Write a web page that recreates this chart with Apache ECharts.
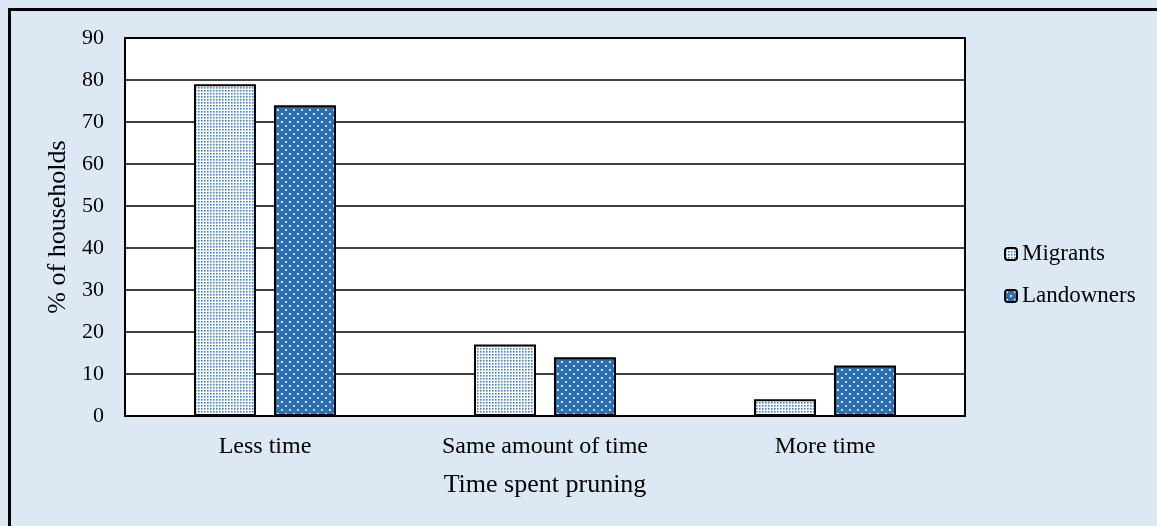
<!DOCTYPE html>
<html>
<head>
<meta charset="utf-8">
<script src="https://cdn.jsdelivr.net/npm/echarts@6/dist/echarts.min.js"></script>
<style>
  html, body { margin: 0; padding: 0; background: #dde8f5; }
  #chart { width: 1157px; height: 526px; }
</style>
</head>
<body>
<div id="chart"></div>
<script>
// categories and values
const categories = ['Less time', 'Same amount of time', 'More time'];
const migrants = [79, 17, 4];
const landowners = [74, 14, 12];
const yTicks = { min: 0, max: 90, interval: 10 };

// small dotted fills, drawn on canvases and repeated
function dotPattern(w, h, bg, dot, dots, dotSize) {
  const c = document.createElement('canvas');
  c.width = w; c.height = h;
  const ctx = c.getContext('2d');
  ctx.fillStyle = bg;
  ctx.fillRect(0, 0, w, h);
  ctx.fillStyle = dot;
  dots.forEach(([x, y]) => ctx.fillRect(x, y, dotSize, dotSize));
  return c;
}
const migrantFill = dotPattern(6, 3, '#ffffff', '#3f83c6', [[0, 0], [3, 0]], 1.6);
const landownerFill = dotPattern(8, 8, '#2e6fb0', '#ffffff', [[1, 1], [5, 5]], 1.8);

const chart = echarts.init(document.getElementById('chart'));
const serif = 'Liberation Serif';

chart.setOption({
  backgroundColor: '#dde8f5',
  textStyle: { fontFamily: serif, color: '#000' },
  grid: { left: 125, right: 192, top: 38, bottom: 110, show: true,
    backgroundColor: '#ffffff', borderColor: '#000', borderWidth: 2 },
  legend: {
    orient: 'vertical', left: 999, top: 237, itemGap: 18,
    itemWidth: 12, itemHeight: 12,
    textStyle: { fontFamily: serif, fontSize: 23, lineHeight: 24, color: '#000' },
    data: ['Migrants', 'Landowners']
  },
  xAxis: {
    type: 'category', data: categories,
    name: 'Time spent pruning', nameLocation: 'middle', nameGap: 56,
    nameTextStyle: { fontFamily: serif, fontSize: 26, color: '#000' },
    axisLine: { lineStyle: { color: '#000', width: 2 } },
    axisTick: { show: false },
    axisLabel: { fontFamily: serif, fontSize: 24, color: '#000', margin: 19 }
  },
  yAxis: {
    type: 'value', min: yTicks.min, max: yTicks.max, interval: yTicks.interval,
    name: '% of households', nameLocation: 'middle', nameGap: 54,
    nameTextStyle: { fontFamily: serif, fontSize: 26, color: '#000', padding: [0, 0, 0, 0] },
    axisLine: { show: false },
    axisTick: { show: false },
    axisLabel: { fontFamily: serif, fontSize: 22, color: '#000', margin: 21 },
    splitLine: { lineStyle: { color: '#000', width: 1.5 } }
  },
  series: [
    {
      name: 'Migrants', type: 'bar', data: migrants,
      barWidth: 62, barGap: '29%',
      itemStyle: { color: { image: migrantFill, repeat: 'repeat' }, borderColor: '#000', borderWidth: 2 }
    },
    {
      name: 'Landowners', type: 'bar', data: landowners,
      barWidth: 62,
      itemStyle: { color: { image: landownerFill, repeat: 'repeat' }, borderColor: '#000', borderWidth: 2 }
    }
  ],
  graphic: [{
    type: 'rect', silent: true, z: 100,
    shape: { x: 9.5, y: 9.5, width: 1300, height: 700 },
    style: { fill: null, stroke: '#000', lineWidth: 3 }
  }]
});
</script>
</body>
</html>
